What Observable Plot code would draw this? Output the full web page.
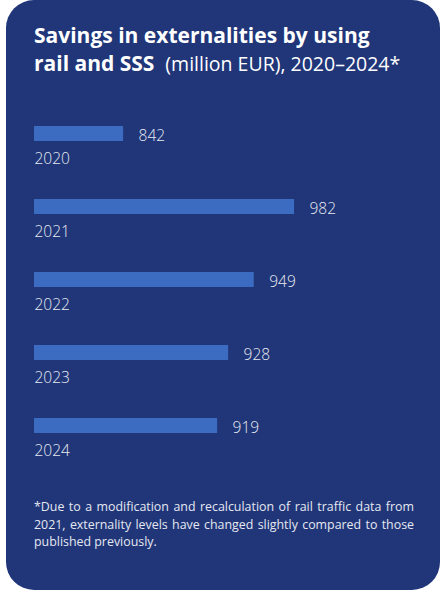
<!DOCTYPE html>
<html>
<head>
<meta charset="utf-8">
<script src="https://cdn.jsdelivr.net/npm/d3@7"></script>
<script src="https://cdn.jsdelivr.net/npm/@observablehq/plot@0.6"></script>
<style>
  html, body { margin: 0; padding: 0; background: #ffffff; }
  body { width: 445px; height: 592px; position: relative; overflow: hidden; font-family: "Open Sans", "Noto Sans", sans-serif; }
  #card { position: absolute; left: 6px; top: 0px; width: 434px; height: 590px; background: #203679; border-radius: 28px; }
  #title { position: absolute; left: 34px; top: 21px; width: 405px; color: #ffffff; font-size: 21px; line-height: 28px; }
  #title b { font-weight: 700; }
  #title span { font-weight: 400; font-size: 19.5px; }
  #chart { position: absolute; left: 0; top: 100px; }
  #note { position: absolute; left: 34px; top: 498px; width: 380px; color: #e6e8f1; font-size: 12.4px; line-height: 17.5px; text-align: justify; }
</style>
</head>
<body>
<div id="card"></div>
<div id="title"><b>Savings in externalities by using<br>rail and SSS</b>&nbsp; <span>(million EUR), 2020–2024*</span></div>
<div id="chart"></div>
<div id="note">*Due to a modification and recalculation of rail traffic data from 2021, externality levels have changed slightly compared to those published previously.</div>
<script>
const years = ["2020", "2021", "2022", "2023", "2024"];
const savings = [842, 982, 949, 928, 919];

const data = years.map((year, i) => ({ year, value: savings[i] }));
const xMin = 769;

const chart = Plot.plot({
  width: 445,
  height: 380,
  marginLeft: 34,
  marginRight: 129,
  marginTop: 24.4,
  marginBottom: 46.1,
  style: { background: "transparent", fontFamily: "'Open Sans', 'Noto Sans', sans-serif" },
  x: { domain: [xMin, 1000], axis: null },
  y: { domain: years, paddingInner: 0.8, paddingOuter: 0, axis: null },
  marks: [
    Plot.barX(data, { x1: xMin, x2: "value", y: "year", fill: "#3b6cc1" }),
    Plot.text(data, { x: "value", y: "year", text: d => String(d.value), textAnchor: "start", dx: 15, dy: 2, fill: "#e8eaf2", fontSize: 15.5, fontWeight: 300 }),
    Plot.text(data, { x: xMin, y: "year", text: "year", textAnchor: "start", dy: 25, fill: "#e8eaf2", fontSize: 15.5, fontWeight: 300 })
  ]
});
document.getElementById("chart").appendChild(chart);
</script>
</body>
</html>
